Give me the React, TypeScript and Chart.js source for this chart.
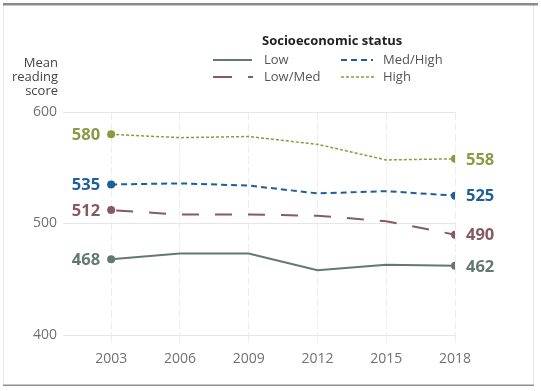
import React, { useEffect, useRef } from "react";
import { Chart, registerables } from "chart.js";

Chart.register(...registerables);

const years = [2003, 2006, 2009, 2012, 2015, 2018];
const low = [468, 473, 473, 458, 463, 462];
const lowMed = [512, 508, 508, 507, 502, 490];
const medHigh = [535, 536, 534, 527, 529, 525];
const high = [580, 577, 578, 571, 557, 558];
const yTicks = [400, 500, 600];
const seriesNames = ["Low", "Low/Med", "Med/High", "High"];
const legendTitle = "Socioeconomic status";
const yTitle = ["Mean", "reading", "score"];

const COLORS = {
  low: "#63796f",
  lowMed: "#875a62",
  medHigh: "#1d5e9b",
  high: "#8a9a42",
};

const FONT = "'Open Sans', 'Noto Sans', sans-serif";

export default function App() {
  const ref = useRef<HTMLCanvasElement | null>(null);

  useEffect(() => {
    if (!ref.current) return;
    const endPts = (n: number, r: number) => years.map((_, i) => (i === 0 || i === n - 1 ? r : 0));

    const decor = {
      id: "decor",
      beforeDraw(chart: any) {
        const ctx = chart.ctx;
        ctx.save();
        ctx.fillStyle = "#ffffff";
        ctx.fillRect(0, 0, chart.width, chart.height);
        ctx.strokeStyle = "#e8e8e8";
        ctx.lineWidth = 1;
        ctx.beginPath();
        ctx.moveTo(3.5, 4);
        ctx.lineTo(3.5, 385);
        ctx.moveTo(533.5, 4);
        ctx.lineTo(533.5, 385);
        ctx.stroke();
        ctx.fillStyle = "#8c8c8c";
        ctx.fillRect(3, 3, 535, 2.5);
        ctx.fillStyle = "#8f8f8f";
        ctx.fillRect(3, 384.5, 531, 1.5);
        ctx.restore();
      },
      afterDraw(chart: any) {
        const ctx = chart.ctx;
        const xs = chart.scales.x;
        const ys = chart.scales.y;
        ctx.save();
        // y axis title
        ctx.font = `13px ${FONT}`;
        ctx.fillStyle = "#444";
        ctx.textAlign = "right";
        ctx.textBaseline = "middle";
        yTitle.forEach((t, i) => ctx.fillText(t, 58, 63 + i * 14));

        // legend
        ctx.textAlign = "left";
        ctx.font = `bold 13px ${FONT}`;
        ctx.fillStyle = "#222";
        ctx.fillText(legendTitle, 262, 41);
        ctx.font = `13px ${FONT}`;
        ctx.fillStyle = "#555";
        const items = [
          { name: seriesNames[0], x: 213, x2: 252, tx: 264, y: 60, c: COLORS.low, dash: [], w: 2 },
          { name: seriesNames[1], x: 213, x2: 253, tx: 264, y: 77, c: COLORS.lowMed, dash: [19, 16], w: 2 },
          { name: seriesNames[2], x: 341, x2: 373, tx: 383, y: 60, c: COLORS.medHigh, dash: [6, 4], w: 2 },
          { name: seriesNames[3], x: 341, x2: 375, tx: 383, y: 77, c: COLORS.high, dash: [3, 2], w: 1.5 },
        ];
        items.forEach((it) => {
          ctx.strokeStyle = it.c;
          ctx.lineWidth = it.w;
          ctx.setLineDash(it.dash);
          ctx.beginPath();
          ctx.moveTo(it.x, it.y);
          ctx.lineTo(it.x2, it.y);
          ctx.stroke();
          ctx.setLineDash([]);
          ctx.fillStyle = "#555";
          ctx.fillText(it.name, it.tx, it.y);
        });

        // end value labels
        const series = [
          { d: low, c: COLORS.low },
          { d: lowMed, c: COLORS.lowMed },
          { d: medHigh, c: COLORS.medHigh },
          { d: high, c: COLORS.high },
        ];
        ctx.font = `bold 16.5px ${FONT}`;
        series.forEach((s) => {
          ctx.fillStyle = s.c;
          ctx.textAlign = "right";
          ctx.fillText(String(s.d[0]), xs.getPixelForValue(years[0]) - 11, ys.getPixelForValue(s.d[0]) + 1);
          ctx.textAlign = "left";
          const n = years.length - 1;
          ctx.fillText(String(s.d[n]), xs.getPixelForValue(years[n]) + 11, ys.getPixelForValue(s.d[n]) + 1);
        });
        ctx.restore();
      },
    };

    const chart = new Chart(ref.current, {
      type: "line",
      data: {
        datasets: [
          {
            label: seriesNames[3],
            data: years.map((y, i) => ({ x: y, y: high[i] })),
            borderColor: COLORS.high,
            backgroundColor: COLORS.high,
            borderWidth: 1.5,
            borderDash: [3, 2],
            pointRadius: endPts(years.length, 4),
            pointBorderWidth: 0,
          },
          {
            label: seriesNames[2],
            data: years.map((y, i) => ({ x: y, y: medHigh[i] })),
            borderColor: COLORS.medHigh,
            backgroundColor: COLORS.medHigh,
            borderWidth: 2,
            borderDash: [6, 4],
            pointRadius: endPts(years.length, 4),
            pointBorderWidth: 0,
          },
          {
            label: seriesNames[1],
            data: years.map((y, i) => ({ x: y, y: lowMed[i] })),
            borderColor: COLORS.lowMed,
            backgroundColor: COLORS.lowMed,
            borderWidth: 2,
            borderDash: [17, 16],
            borderDashOffset: -5,
            pointRadius: endPts(years.length, 4),
            pointBorderWidth: 0,
          },
          {
            label: seriesNames[0],
            data: years.map((y, i) => ({ x: y, y: low[i] })),
            borderColor: COLORS.low,
            backgroundColor: COLORS.low,
            borderWidth: 2,
            pointRadius: endPts(years.length, 4),
            pointBorderWidth: 0,
          },
        ],
      },
      options: {
        responsive: false,
        animation: false,
        events: [],
        layout: { padding: { left: 0, right: 86, top: 112, bottom: 0 } },
        plugins: { legend: { display: false }, tooltip: { enabled: false } },
        scales: {
          x: {
            type: "linear",
            min: 2000.9,
            max: 2018,
            afterBuildTicks: (s: any) => {
              s.ticks = years.map((v) => ({ value: v }));
            },
            afterFit: (s: any) => {
              s.height = 56;
            },
            border: { display: false, dash: [8, 3] },
            grid: {
              color: "#ededed",
              lineWidth: 1,
              drawTicks: true,
              tickLength: 8,
              tickBorderDash: [8, 3],
            } as any,
            ticks: {
              autoSkip: false,
              maxRotation: 0,
              padding: 8,
              color: "#707070",
              font: { family: FONT, size: 14 },
              callback: (v: any) => String(v),
            },
          },
          y: {
            min: 400,
            max: 600,
            afterBuildTicks: (s: any) => {
              s.ticks = yTicks.map((v) => ({ value: v }));
            },
            afterFit: (s: any) => {
              s.width = 63;
            },
            border: { display: false },
            grid: { color: "#e6e6e6", lineWidth: 1, drawTicks: false },
            ticks: {
              padding: 6,
              color: "#707070",
              font: { family: FONT, size: 14 },
              callback: (v: any) => String(v),
            },
          },
        },
      },
      plugins: [decor],
    } as any);

    return () => chart.destroy();
  }, []);

  return (
    <div style={{ position: "fixed", left: 0, top: 0, width: 541, height: 391 }}>
      <canvas ref={ref} width={541} height={391} style={{ width: 541, height: 391 }} />
    </div>
  );
}
